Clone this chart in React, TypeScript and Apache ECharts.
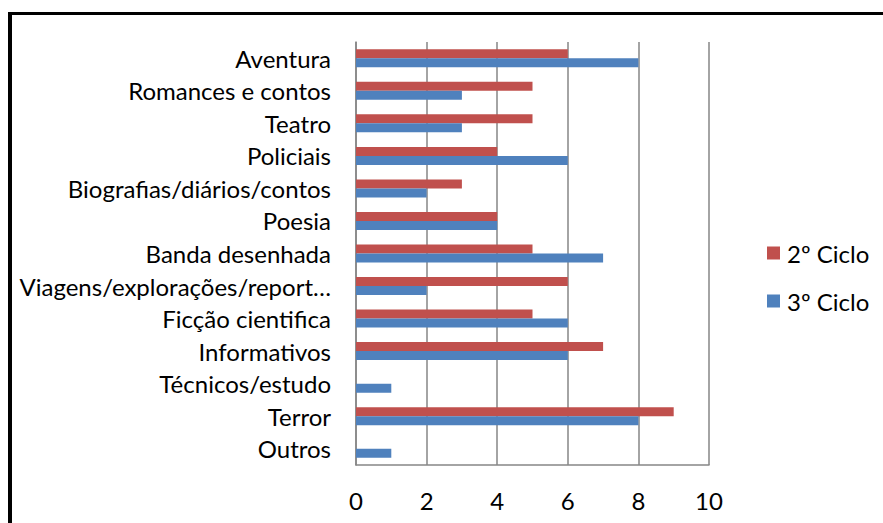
import React, { useEffect, useRef } from "react";
import * as echarts from "echarts";

const categories = [
  "Aventura",
  "Romances e contos",
  "Teatro",
  "Policiais",
  "Biografias/diários/contos",
  "Poesia",
  "Banda desenhada",
  "Viagens/explorações/reportagens",
  "Ficção cientifica",
  "Informativos",
  "Técnicos/estudo",
  "Terror",
  "Outros",
];
const seriesNames = ["2º Ciclo", "3º Ciclo"];
const ciclo2 = [6, 5, 5, 4, 3, 4, 5, 6, 5, 7, 0, 9, 0];
const ciclo3 = [8, 3, 3, 6, 2, 4, 7, 2, 6, 6, 1, 8, 1];
const xMin = 0;
const xMax = 10;
const xInterval = 2;

const FONT = "Lato, 'Open Sans', sans-serif";

export default function App() {
  const ref = useRef<HTMLDivElement>(null);
  useEffect(() => {
    if (!ref.current) return;
    const chart = echarts.init(ref.current, null, { renderer: "svg" });
    chart.setOption({
      animation: false,
      backgroundColor: "#ffffff",
      textStyle: { fontFamily: FONT, color: "#000" },
      grid: { left: 356, top: 42, right: 174, bottom: 58, containLabel: false },
      legend: {
        orient: "vertical",
        left: 762,
        top: 236,
        icon: "rect",
        itemWidth: 13,
        itemHeight: 13,
        itemGap: 24,
        data: seriesNames,
        textStyle: { fontFamily: FONT, fontSize: 24, lineHeight: 24, color: "#000", padding: [0, 0, 0, 2] },
      },
      xAxis: {
        type: "value",
        min: xMin,
        max: xMax,
        interval: xInterval,
        axisLine: { show: true, lineStyle: { color: "#868686", width: 1.5 } },
        axisTick: { show: false },
        splitLine: { show: true, lineStyle: { color: "#868686", width: 1.5 } },
        axisLabel: { fontFamily: FONT, fontSize: 24, color: "#000", margin: 23 },
      },
      yAxis: {
        type: "category",
        data: categories,
        inverse: true,
        axisLine: { show: true, lineStyle: { color: "#868686", width: 1.5 } },
        axisTick: { show: false },
        axisLabel: {
          fontFamily: FONT,
          fontSize: 24,
          color: "#000",
          margin: 25,
          width: 335,
          overflow: "truncate",
          ellipsis: "…",
          interval: 0,
          padding: [0, 0, 2, 0],
        },
      },
      series: [
        {
          name: seriesNames[0],
          type: "bar",
          data: ciclo2,
          barWidth: 9,
          barGap: "0%",
          itemStyle: { color: "#C0504D" },
        },
        {
          name: seriesNames[1],
          type: "bar",
          data: ciclo3,
          barWidth: 9,
          barGap: "0%",
          itemStyle: { color: "#4F81BD" },
        },
      ],
      graphic: [
        { type: "rect", shape: { x: 8, y: 12, width: 4, height: 511 }, style: { fill: "#000" } },
        { type: "rect", shape: { x: 8, y: 12, width: 875, height: 3 }, style: { fill: "#000" } },
      ],
    });
    return () => chart.dispose();
  }, []);
  return (
    <div
      ref={ref}
      style={{ position: "fixed", left: 0, top: 0, width: 883, height: 523 }}
    />
  );
}
